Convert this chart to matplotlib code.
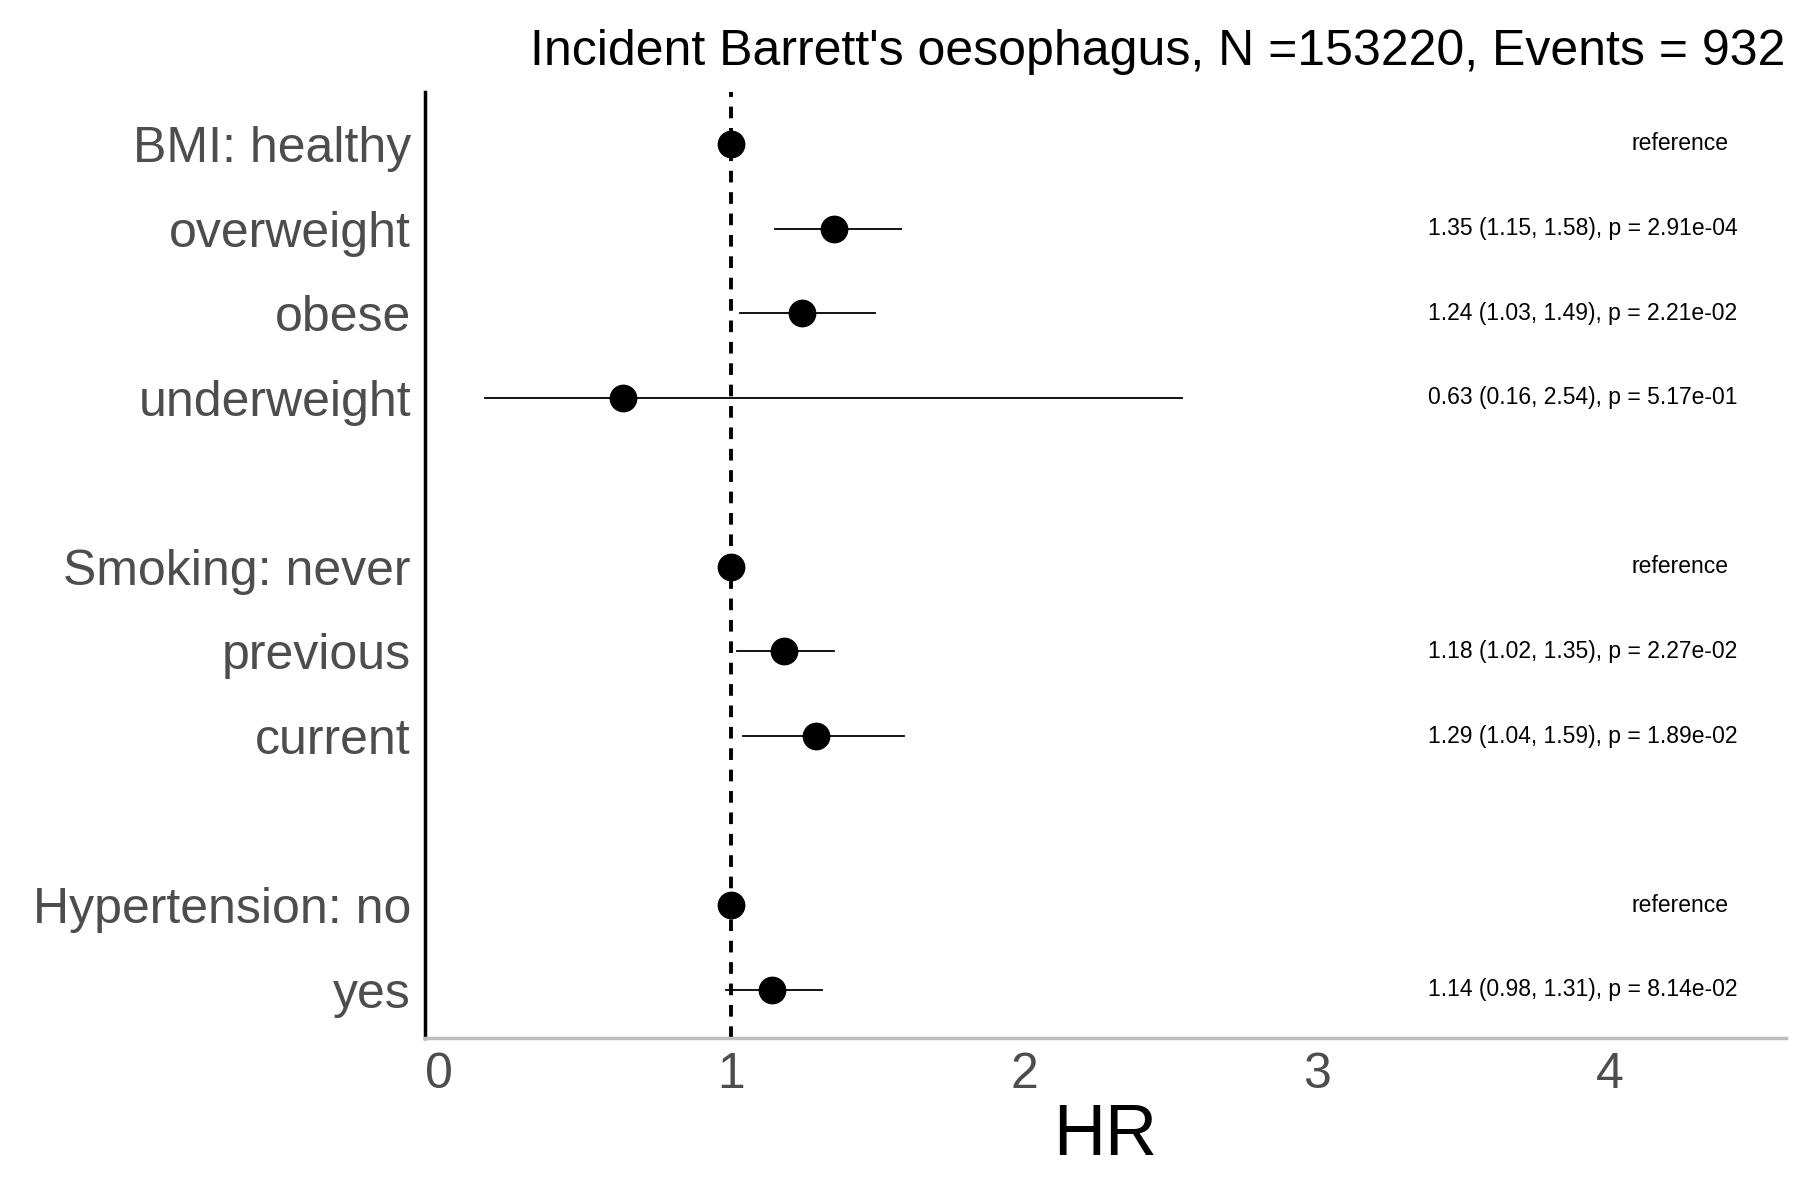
import matplotlib
matplotlib.use('Agg')
import matplotlib.pyplot as plt

plt.rcParams['font.family'] = 'Liberation Sans'

labels = ['BMI: healthy', 'overweight', 'obese', 'underweight', '',
          'Smoking: never', 'previous', 'current', '',
          'Hypertension: no', 'yes']
hr = [1.0, 1.35, 1.24, 0.63, None, 1.0, 1.18, 1.29, None, 1.0, 1.14]
lo = [None, 1.15, 1.03, 0.16, None, None, 1.02, 1.04, None, None, 0.98]
hi = [None, 1.58, 1.49, 2.54, None, None, 1.35, 1.59, None, None, 1.31]
notes = ['reference', '1.35 (1.15, 1.58), p = 2.91e-04', '1.24 (1.03, 1.49), p = 2.21e-02',
         '0.63 (0.16, 2.54), p = 5.17e-01', '', 'reference',
         '1.18 (1.02, 1.35), p = 2.27e-02', '1.29 (1.04, 1.59), p = 1.89e-02', '',
         'reference', '1.14 (0.98, 1.31), p = 8.14e-02']

fig = plt.figure(figsize=(18, 12), dpi=100)
ax = fig.add_axes([0.236, 0.135, 0.756, 0.788])

for i, v in enumerate(hr):
    if v is None:
        continue
    if lo[i] is not None:
        ax.plot([lo[i], hi[i]], [i, i], color='black', lw=1.3, zorder=2)
    ax.plot(v, i, 'o', color='black', ms=19, zorder=3)
    if notes[i] == 'reference':
        ax.text(4.24, i, notes[i], ha='center', va='center', fontsize=16.5)
    else:
        ax.text(3.38, i, notes[i], ha='left', va='center', fontsize=16.5)

ax.axvline(1, color='black', ls=(0, (3, 2.5)), lw=2.8, zorder=1)

ax.set_xlim(-0.047, 4.6)
ax.set_ylim(10.57, -0.61)
ax.set_yticks(range(len(labels)))
ax.set_yticklabels(labels, fontsize=36, color='#4d4d4d')
ax.set_xticks([0, 1, 2, 3, 4])
ax.set_xticklabels(['0', '1', '2', '3', '4'], fontsize=36, color='#4d4d4d')
ax.tick_params(length=0, pad=10)
ax.set_xlabel('HR', fontsize=52, labelpad=4)
ax.set_title("Incident Barrett's oesophagus, N =153220, Events = 932",
             fontsize=36, loc='right', pad=20)
for s in ['top', 'right']:
    ax.spines[s].set_visible(False)
ax.spines['left'].set_linewidth(2.5)
ax.spines['bottom'].set_color('#bebebe')
ax.spines['bottom'].set_linewidth(2.5)

fig.savefig('out.png', dpi=100)
